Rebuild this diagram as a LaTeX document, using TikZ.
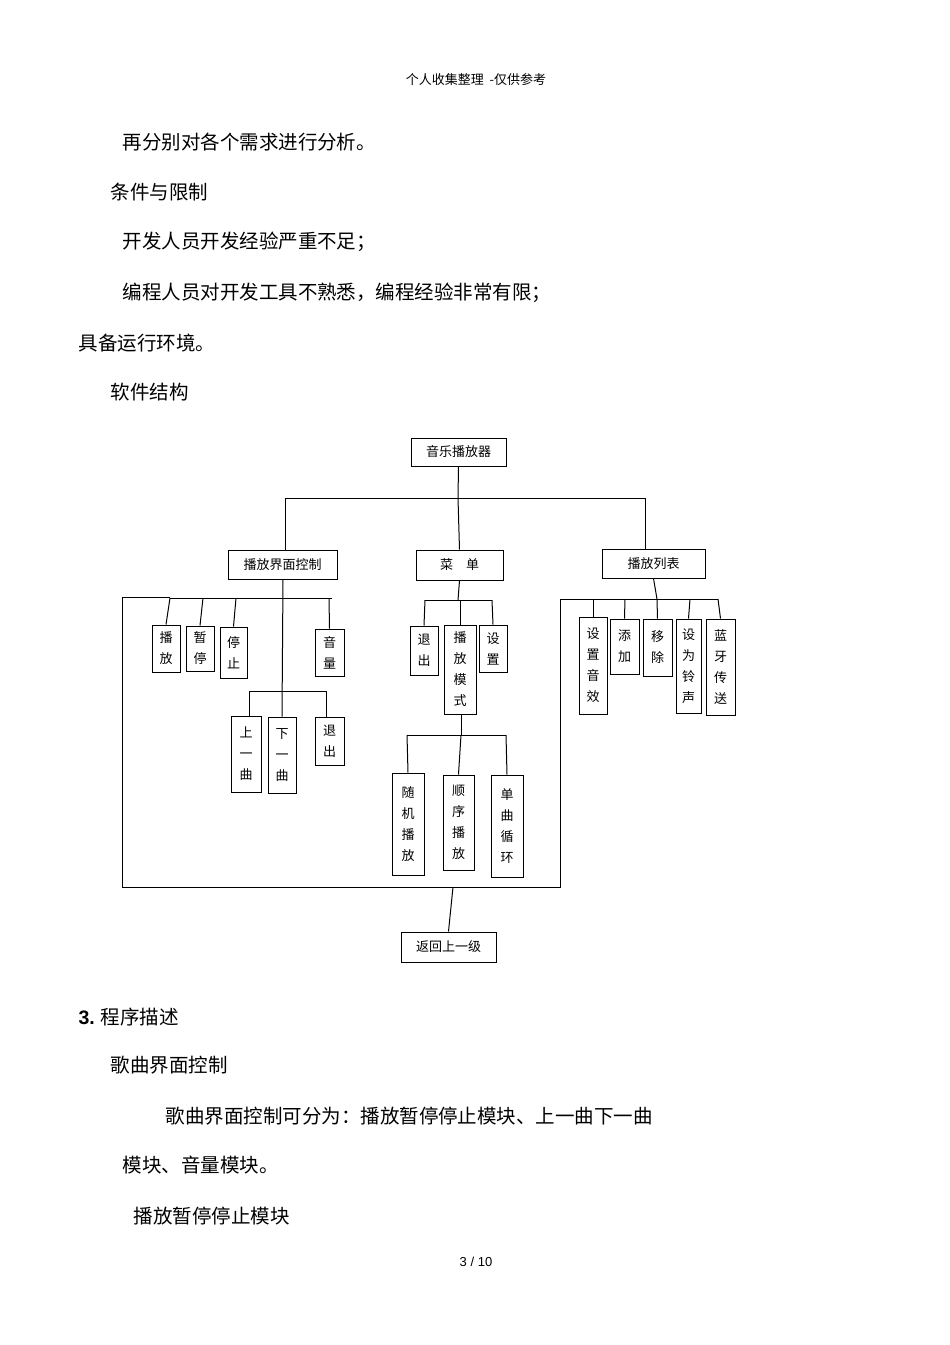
\documentclass[tikz,border=0pt]{standalone}
\usepackage{fontspec}
\setmainfont{Noto Sans CJK SC}
\newfontfamily\latin{Liberation Sans}
\begin{document}
\begin{tikzpicture}[x=1pt,y=-1pt,line width=1pt,
  bx/.style={draw,inner sep=0pt,align=center,font=\fontsize{13}{21}\selectfont},
  body/.style={anchor=west,inner sep=0pt,font=\fontsize{19.5}{22}\selectfont}]
\useasboundingbox[fill=white] (0,0) rectangle (950,1345);
\newcommand\bx[6]{\node[bx,minimum width={#4-#2},minimum height={#5-#3}] (#1) at ({(#2+#4)/2},{(#3+#5)/2}) {#6};}
% texts
\node[inner sep=0pt,font=\fontsize{13}{15}\selectfont] (hdr) at (476,80) {个人收集整理\ \ -仅供参考};
\node[body] (t1) at (122,142) {再分别对各个需求进行分析。};
\node[body] (t2) at (110,192) {条件与限制};
\node[body] (t3) at (122,242) {开发人员开发经验严重不足；};
\node[body] (t4) at (122,293) {编程人员对开发工具不熟悉，编程经验非常有限；};
\node[body] (t5) at (78,343) {具备运行环境。};
\node[body] (t6) at (110,392) {软件结构};
\node[body] (t7) at (78,1017) {{\latin\bfseries 3.} 程序描述};
\node[body] (t8) at (110,1065) {歌曲界面控制};
\node[body] (t9) at (165,1116) {歌曲界面控制可分为：播放暂停停止模块、上一曲下一曲};
\node[body] (t10) at (122,1165) {模块、音量模块。};
\node[body] (t11) at (133,1216) {播放暂停停止模块};
\node[inner sep=0pt,font=\latin\fontsize{13}{15}\selectfont] (pg) at (476,1262) {3 / 10};
% boxes
\bx{root}{411}{438}{506}{466}{音乐播放器}
\bx{ui}{228}{550}{337}{579}{播放界面控制}
\bx{menu}{416}{550}{503}{580}{菜\quad 单}
\bx{list}{602}{549}{705}{578}{播放列表}
\bx{bf}{152}{625}{180}{672}{播\\放}
\bx{zt}{186}{626}{214}{671}{暂\\停}
\bx{tz}{220}{627}{247}{678}{停\\止}
\bx{yl}{315}{629}{344}{676}{音\\量}
\bx{prev}{231}{716}{261}{792}{上\\一\\曲}
\bx{next}{268}{717}{296}{793}{下\\一\\曲}
\bx{tc}{315}{717}{344}{765}{退\\出}
\bx{mtc}{410}{626}{438}{675}{退\\出}
\bx{mode}{444}{625}{476}{714}{播\\放\\模\\式}
\bx{set}{479}{625}{507}{672}{设\\置}
\bx{rand}{392}{773}{424}{875}{随\\机\\播\\放}
\bx{seq}{443}{775}{474}{870}{顺\\序\\播\\放}
\bx{loop}{491}{775}{523}{877}{单\\曲\\循\\环}
\bx{back}{401}{932}{496}{962}{返回上一级}
\bx{sx}{579}{617}{607}{714}{设\\置\\音\\效}
\bx{add}{610}{619}{639}{674}{添\\加}
\bx{rm}{643}{619}{672}{676}{移\\除}
\bx{ring}{676}{619}{701}{713}{设\\为\\铃\\声}
\bx{bt}{706}{619}{735}{715}{蓝\\牙\\传\\送}
% top level
\coordinate (j0) at (458,498);
\draw (root.south) -- (j0);
\draw (285,498) -- (645,498);
\draw (285,498) -- (285,550);
\draw (j0) -- (menu.north);
\draw (645,498) -- (645,549);
% ui group
\draw (283,579) -- (next.north);
\draw (170,598) -- (332,598);
\draw (170,598) -- (bf.north);
\draw (203,598) -- (zt.north);
\draw (236,598) -- (tz.north);
\draw (329,598) -- (yl.north);
\draw (249,691) -- (326,691);
\draw (249,691) -- (249,716);
\draw (326,691) -- (326,717);
% menu group
\draw (menu.south) -- (458,600);
\draw (425,600) -- (492,600);
\draw (425,600) -- (mtc.north);
\draw (460,600) -- (mode.north);
\draw (492,600) -- (set.north);
\draw (461,714) -- (461,735);
\draw (407,735) -- (506,735);
\draw (407,735) -- (rand.north);
\draw (461,735) -- (seq.north);
\draw (506,735) -- (loop.north);
% list group
\draw (list.south) -- (657,599);
\draw (560,599) -- (718,599);
\draw (593,599) -- (sx.north);
\draw (625,599) -- (add.north);
\draw (657,599) -- (rm.north);
\draw (690,599) -- (ring.north);
\draw (718,599) -- (bt.north);
% return loop
\draw (170,597) -- (122,597) -- (122,887) -- (560,887) -- (560,599);
\draw (453,887) -- (back.north);
\end{tikzpicture}
\end{document}
